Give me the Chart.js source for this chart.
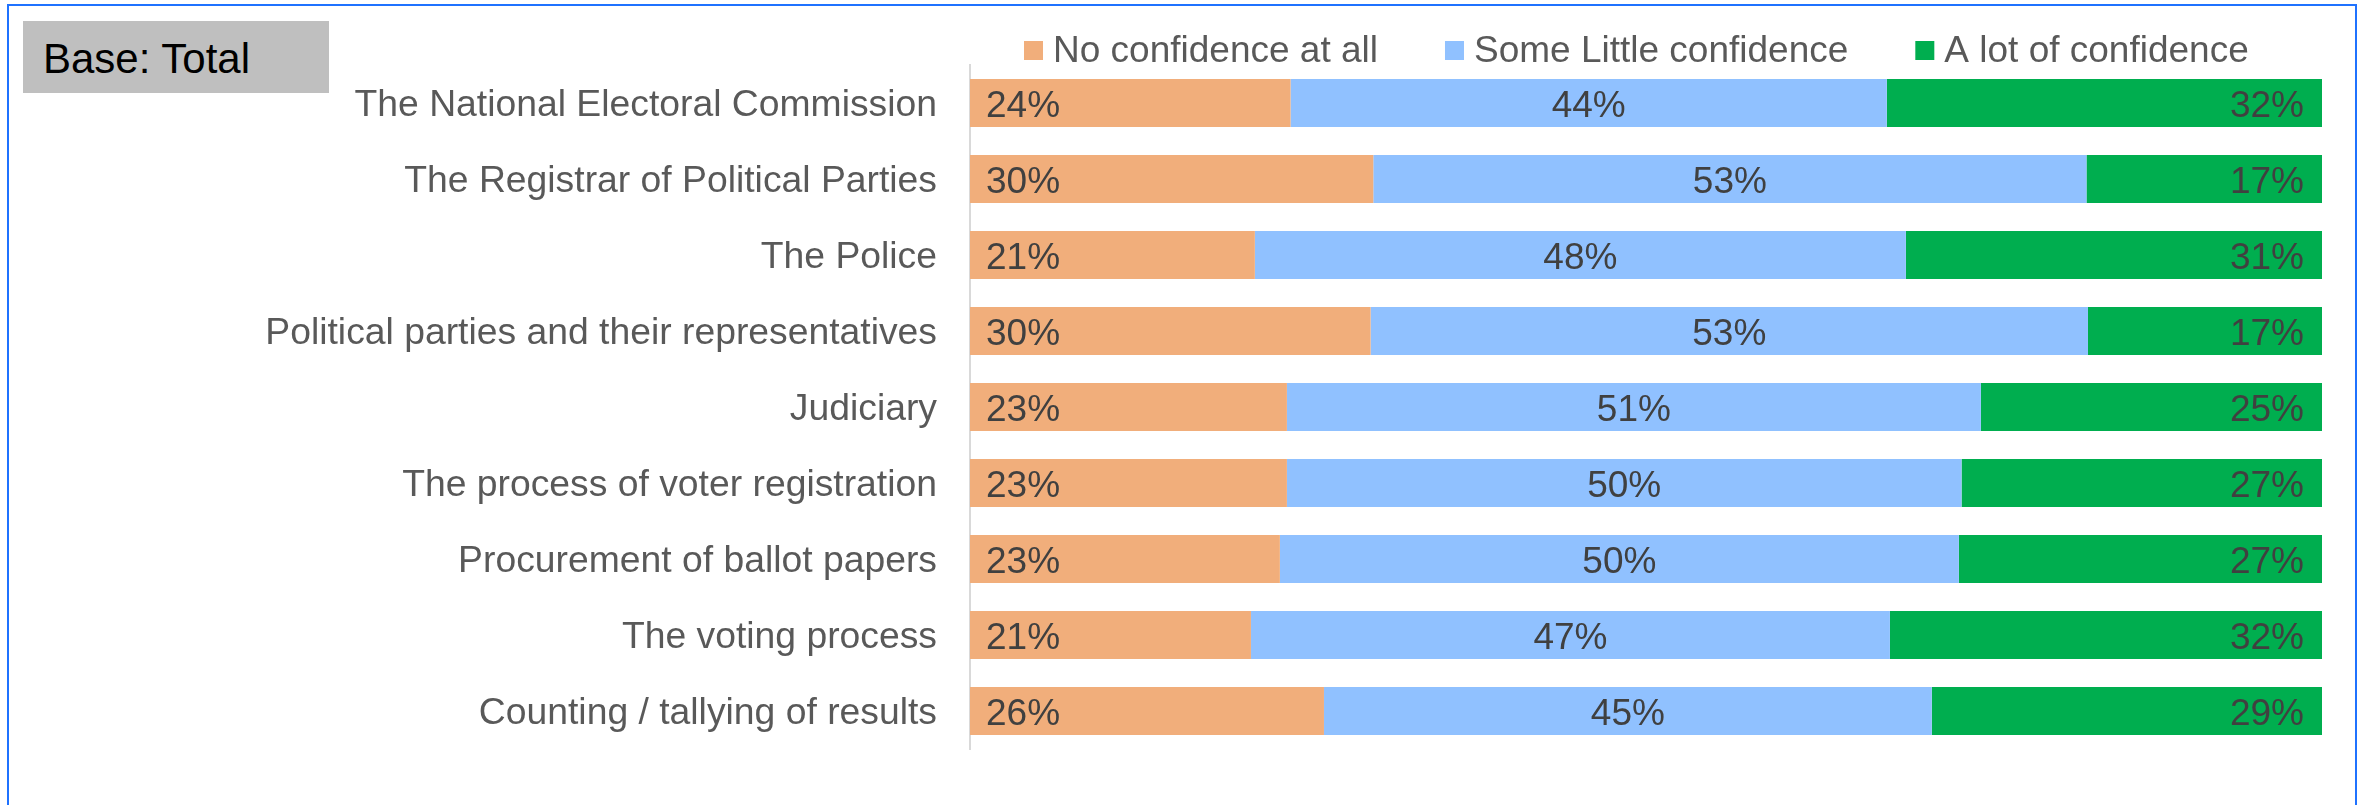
<!DOCTYPE html>
<html>
<head>
<meta charset="utf-8">
<script src="https://cdn.jsdelivr.net/npm/chart.js@4/dist/chart.umd.min.js"></script>
<style>
  html, body { margin: 0; padding: 0; background: #ffffff; }
  #wrap { position: relative; width: 2369px; height: 805px; overflow: hidden; }
  #frame { position: absolute; left: 7px; top: 4px; width: 2350px; height: 900px;
           border: 2px solid #1f72ff; border-bottom: none; box-sizing: border-box; }
  #base { position: absolute; left: 23px; top: 21px; width: 306px; height: 72px;
          background: #bfbfbf; font-family: "Liberation Sans", Arial, sans-serif;
          font-size: 42px; line-height: 72px; color: #000; padding-left: 20px;
          box-sizing: border-box; padding-top: 2px; }
  canvas { position: absolute; left: 0; top: 0; }
</style>
</head>
<body>
<div id="wrap">
  <canvas id="c" width="2369" height="805"></canvas>
  <div id="frame"></div>
  <div id="base">Base: Total</div>
</div>
<script>
const categories = [
  "The National Electoral Commission",
  "The Registrar of Political Parties",
  "The Police",
  "Political parties and their representatives",
  "Judiciary",
  "The process of voter registration",
  "Procurement of ballot papers",
  "The voting process",
  "Counting / tallying of results"
];
const seriesNames = ["No confidence at all", "Some Little confidence", "A lot of confidence"];
const noConfidence   = [23.71, 29.83, 21.07, 29.63, 23.44, 23.44, 22.92, 20.78, 26.18];
const someLittle     = [44.10, 52.75, 48.15, 53.06, 51.33, 49.90, 50.22, 47.26, 44.96];
const aLotConfidence = [32.19, 17.42, 30.78, 17.31, 25.23, 26.66, 26.86, 31.96, 28.86];
const seriesColors = ["#F1AE7B", "#90C1FF", "#00AE4F"];

const FONT = '"Liberation Sans", Arial, sans-serif';

const labelPlugin = {
  id: 'barLabels',
  afterDatasetsDraw(chart) {
    const ctx = chart.ctx;
    ctx.save();
    ctx.font = '37px ' + FONT;
    ctx.fillStyle = '#404040';
    ctx.textBaseline = 'alphabetic';
    chart.data.datasets.forEach((ds, di) => {
      const meta = chart.getDatasetMeta(di);
      meta.data.forEach((bar, i) => {
        const txt = Math.round(ds.data[i]) + '%';
        const y = bar.y + 13.5;
        if (di === 0) { ctx.textAlign = 'left'; ctx.fillText(txt, bar.base + 16, y); }
        else if (di === 1) { ctx.textAlign = 'center'; ctx.fillText(txt, (bar.base + bar.x) / 2, y); }
        else { ctx.textAlign = 'right'; ctx.fillText(txt, bar.x - 18, y); }
      });
    });
    ctx.restore();
  }
};

const legendPlugin = {
  id: 'customLegend',
  afterDraw(chart) {
    const ctx = chart.ctx;
    ctx.save();
    ctx.font = '37px ' + FONT;
    ctx.textBaseline = 'alphabetic';
    ctx.textAlign = 'left';
    let x = 1024;
    chart.data.datasets.forEach((ds) => {
      ctx.fillStyle = ds.backgroundColor;
      ctx.fillRect(x, 41, 19, 19);
      ctx.fillStyle = '#595959';
      ctx.fillText(ds.label, x + 29, 62);
      x += 29 + ctx.measureText(ds.label).width + 67;
    });
    ctx.restore();
  }
};

new Chart(document.getElementById('c'), {
  type: 'bar',
  data: {
    labels: categories,
    datasets: [
      { label: seriesNames[0], data: noConfidence,   backgroundColor: seriesColors[0] },
      { label: seriesNames[1], data: someLittle,     backgroundColor: seriesColors[1] },
      { label: seriesNames[2], data: aLotConfidence, backgroundColor: seriesColors[2] }
    ]
  },
  options: {
    indexAxis: 'y',
    responsive: false,
    animation: false,
    layout: { padding: { top: 65, bottom: 56, right: 47, left: 0 } },
    datasets: { bar: { barPercentage: 0.632, categoryPercentage: 1.0, borderWidth: 0 } },
    plugins: { legend: { display: false }, tooltip: { enabled: false } },
    scales: {
      x: { stacked: true, min: 0, max: 100, display: false },
      y: {
        stacked: true,
        grid: { display: false, drawTicks: false },
        border: { display: true, color: '#d9d9d9', width: 2 },
        ticks: { color: '#595959', font: { family: FONT, size: 37.3 }, padding: 33, labelOffset: 3 },
        afterFit(scale) { scale.width = 970; }
      }
    }
  },
  plugins: [labelPlugin, legendPlugin]
});
</script>
</body>
</html>
